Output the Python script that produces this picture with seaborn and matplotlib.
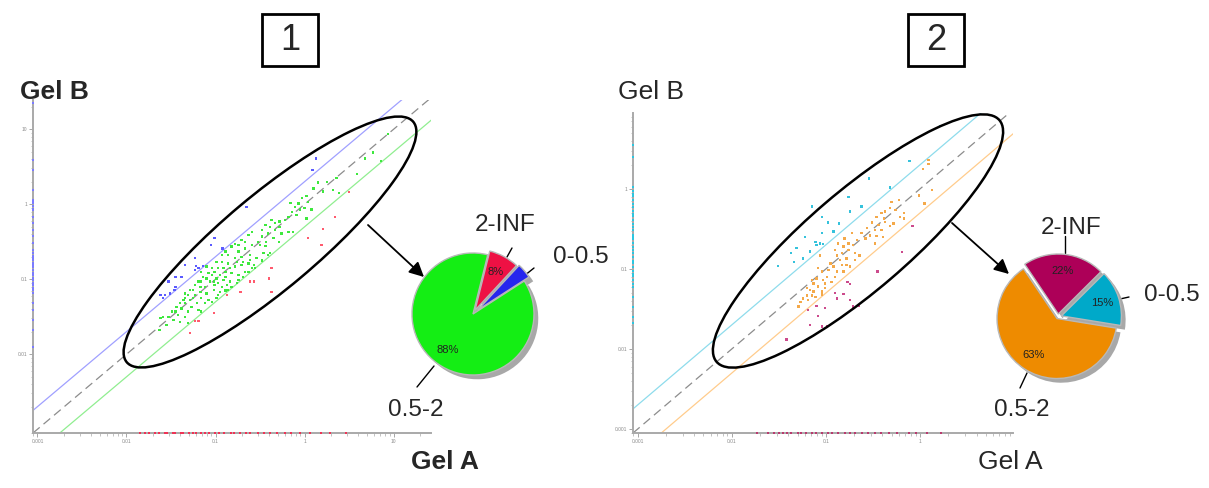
import numpy as np
import pandas as pd
import matplotlib
matplotlib.use("Agg")
import matplotlib.pyplot as plt
import seaborn as sns
from matplotlib.patches import Ellipse, Rectangle
from matplotlib.ticker import LogLocator, NullFormatter


# DATA  (log10 spot volumes, Gel A on x, Gel B on y)

# panel 1 - ratio 0.5-2
p1_same_a = [-0.78, -0.71, -0.63, -0.59, -0.67, -0.74, -0.82, -0.86, -0.78, -0.71, -0.61, -0.54, -0.46, -0.39,
             -0.93, -0.86, -0.78, -0.71, -0.63, -0.56, -0.48, -0.41, -0.97, -0.89, -0.82, -0.74, -0.67, -0.59,
             -1.04, -0.99, -0.91, -0.84, -0.76, -1.06, -1.01, -0.93, -0.86, -1.12, -1.17, -1.10, -1.02, -0.97,
             -0.89, -1.23, -1.16, -1.08, -1.29, -1.21, -1.34, -1.27, -1.19, -1.38, -1.31, -1.45, -1.42, -1.34,
             -1.53, -1.47, -1.40, -1.55, -1.34, -1.25, -1.16, -1.04, -0.93, -1.16, -1.31, -1.63,
             0.94, 0.77, 0.68, 0.86, 0.59, 0.36, 0.25, 0.15, 0.32, 0.39, 0.21, 0.10, 0.02, -0.03, -0.07,
             0.04, 0.00, 0.08, -0.16, -0.11, -0.05, -0.14, -0.09, -0.18, 0.02, -0.22, -0.28, -0.33, -0.37,
             -0.39, -0.44, -0.48, -0.41, -0.33, -0.28, -0.26, -0.48, -0.18, -0.13, -0.52, -0.43, -0.35,
             -0.29, -0.44, -0.50,
             -1.02, -0.97, -1.10, -1.17, -1.25, -1.31, -1.36, -1.40, -1.44, -1.49, -1.59, -1.62, -1.12,
             -1.04, -0.99, -0.95, -0.87, -0.82, -0.74, -0.69, -0.63, -0.57, -0.61, -0.69, -0.76, -0.84,
             -0.91, -1.01, -1.08, -1.14, -1.19, -1.23, -1.29, -1.34, -1.16, -1.10, -0.99, -0.89, -0.82,
             -0.74, -0.67, -0.59, -0.89, -0.95]
p1_same_b = [-0.53, -0.48, -0.41, -0.54, -0.59, -0.63, -0.57, -0.68, -0.72, -0.70, -0.68, -0.72, -0.65, -0.65,
             -0.77, -0.79, -0.83, -0.81, -0.79, -0.85, -0.75, -0.68, -0.85, -0.90, -0.92, -0.94, -0.90, -0.85,
             -0.94, -0.99, -1.01, -1.03, -1.05, -1.03, -1.08, -1.10, -1.14, -1.10, -1.17, -1.19, -1.14, -1.21,
             -1.15, -1.21, -1.25, -1.28, -1.28, -1.32, -1.32, -1.37, -1.41, -1.39, -1.43, -1.43, -1.48, -1.50,
             -1.50, -1.54, -1.57, -1.61, -1.25, -1.14, -1.03, -0.85, -0.68, -1.43, -1.58, -1.68,
             0.94, 0.69, 0.61, 0.58, 0.40, 0.35, 0.30, 0.29, 0.19, 0.15, 0.17, 0.21, 0.11, 0.08, 0.01,
             0.03, -0.05, -0.07, 0.02, -0.04, -0.07, -0.10, -0.14, -0.17, -0.19, -0.21, -0.23, -0.25, -0.21,
             -0.30, -0.28, -0.34, -0.39, -0.34, -0.30, -0.39, -0.43, -0.37, -0.37, -0.50, -0.50, -0.45,
             -0.50, -0.56, -0.54,
             -1.03, -1.05, -0.99, -1.10, -1.25, -1.21, -1.28, -1.32, -1.37, -1.43, -1.50, -1.52, -1.32,
             -1.30, -1.25, -1.17, -1.08, -1.10, -1.01, -0.97, -0.90, -0.81, -0.74, -0.77, -0.77, -0.85,
             -0.85, -0.90, -0.92, -0.97, -1.03, -1.08, -1.14, -1.19, -0.90, -0.83, -0.77, -0.63, -0.56,
             -0.54, -0.50, -0.37, -0.97, -0.94]
# panel 1 - ratio 0-0.5 (B up)
p1_up_a = [-1.01, -1.05, -0.92, -1.23, -1.34, -1.22, -1.19, -1.14, -1.23, -1.45, -1.38, -1.53, -1.45,
           -1.46, -1.62, -1.57, -1.51, -1.59, 0.13, 0.09, -0.65]
p1_up_b = [-0.45, -0.54, -0.59, -0.72, -0.81, -0.82, -0.85, -0.82, -0.88, -0.97, -0.97, -1.03, -1.10,
           -1.14, -1.21, -1.21, -1.19, -1.25, 0.61, 0.46, -0.04]
# panel 1 - ratio 2-INF (B down)
p1_down_a = [-0.37, -0.40, -0.61, -0.57, -0.72, -0.37, -1.02, -1.23, -1.19, -1.29, -0.87, 0.50, 0.34,
             0.21, 0.04, 0.19]
p1_down_b = [-0.85, -0.99, -1.03, -1.03, -1.17, -1.17, -1.45, -1.56, -1.56, -1.72, -1.21, 0.16, -0.17,
             -0.33, -0.45, -0.54]
# spots seen on one gel only
p1_only_b = [1.35, 0.59, 0.46, 0.19, 0.06, 0.03, 0.01, -0.02, -0.03, -0.06, -0.08, -0.17, -0.25, -0.34,
             -0.43, -0.52, -0.61, -0.65, -0.69, -0.72, -0.74, -0.79, -0.81, -0.84, -0.88, -0.92, -0.94,
             -0.99, -1.01, -1.05, -1.08, -1.12, -1.15, -1.19, -1.32, -1.41, -1.54, -1.68, -1.90]
p1_only_a = [-1.85, -1.79, -1.75, -1.68, -1.63, -1.57, -1.54, -1.48, -1.45, -1.39, -1.36, -1.30, -1.25,
             -1.22, -1.16, -1.12, -1.07, -1.01, -0.96, -0.90, -0.83, -0.79, -0.72, -0.66, -0.61, -0.52,
             -0.45, -0.39, -0.31, -0.22, -0.15, -0.05, 0.06, 0.18, 0.29, 0.46]

# panel 2
p2_same_a = [-0.72, -0.67, -0.76, -0.71, -0.81, -0.76, -0.88, -0.78, -0.85, -0.95, -0.83, -0.69, -1.06,
             -0.99, -1.10, -1.15, -1.13, -1.01, -0.94, -1.20, -1.17, -1.13, -1.15, -1.11, -1.04, -1.01,
             -1.29, -1.19, -0.74, -0.64,
             0.09, 0.09, 0.03, 0.13, -0.01, 0.05, -0.22, -0.30, -0.32, -0.26, -0.37, -0.41, -0.17, -0.21,
             -0.17, -0.38, -0.46, -0.51, -0.37, -0.28, -0.32, -0.44, -0.56, -0.48, -0.41, -0.62, -0.53,
             -0.46, -0.39, -0.58, -0.48,
             -0.90, -0.87, -0.80, -0.83, -0.92, -0.88, -1.04, -1.08, -0.97, -1.20, -1.24, -1.08, -1.04,
             -1.27, -0.81, -0.69, -0.78, -0.90, -1.03]
p2_same_b = [-0.55, -0.64, -0.68, -0.70, -0.72, -0.76, -0.83, -0.87, -0.89, -0.93, -0.95, -0.89, -0.83,
             -1.10, -1.12, -1.14, -1.18, -1.18, -1.16, -1.24, -1.26, -1.28, -1.33, -1.35, -1.28, -1.24,
             -1.47, -1.39, -0.97, -0.83,
             0.36, 0.31, 0.25, -0.01, -0.08, -0.18, -0.14, -0.16, -0.24, -0.26, -0.28, -0.30, -0.30, -0.35,
             -0.37, -0.37, -0.35, -0.42, -0.41, -0.43, -0.46, -0.45, -0.49, -0.51, -0.51, -0.55, -0.58,
             -0.59, -0.60, -0.62, -0.68,
             -0.76, -0.68, -0.62, -0.80, -0.97, -1.03, -1.03, -0.99, -1.01, -1.33, -1.37, -1.22, -1.32,
             -1.41, -1.03, -0.80, -0.95, -1.10, -1.14]
p2_up_a = [-1.15, -0.74, -1.04, -0.98, -0.86, -1.04, -1.22, -0.92, -1.11, -1.06, -1.03, -1.10, -1.31,
           -1.17, -1.37, -1.24, -1.34, -1.51, -0.76, 0.22, -0.11, -0.54, -0.32, -0.62]
p2_up_b = [-0.22, -0.28, -0.35, -0.42, -0.43, -0.55, -0.60, -0.53, -0.66, -0.68, -0.69, -0.70, -0.74,
           -0.78, -0.80, -0.87, -0.91, -0.96, -0.10, 0.79, 0.35, 0.13, 0.02, -0.22]
p2_down_a = [-0.45, -0.77, -0.74, -0.90, -0.81, -0.88, -0.74, -0.65, -0.71, -1.19, -1.10, -1.01, -1.08,
             -1.17, -1.04, -0.99, -1.42, -0.08, -0.19]
p2_down_b = [-1.03, -1.16, -1.19, -1.30, -1.31, -1.37, -1.39, -1.46, -1.47, -1.51, -1.46, -1.49, -1.59,
             -1.70, -1.72, -1.72, -1.88, -0.46, -0.79]
p2_only_b = [0.55, 0.40, 0.03, -0.02, -0.06, -0.09, -0.14, -0.19, -0.22, -0.27, -0.31, -0.34, -0.39,
             -0.44, -0.47, -0.51, -0.57, -0.60, -0.63, -0.68, -0.73, -0.76, -0.80, -0.85, -0.90, -0.93,
             -0.97, -1.02, -1.06, -1.09, -1.14, -1.19, -1.22, -1.35, -1.47, -1.60, -1.68]
p2_only_a = [-1.73, -1.62, -1.55, -1.50, -1.46, -1.41, -1.37, -1.30, -1.26, -1.21, -1.15, -1.10, -1.04,
             -0.98, -0.93, -0.87, -0.80, -0.74, -0.69, -0.62, -0.55, -0.48, -0.41, -0.33, -0.24, -0.12,
             -0.04, 0.08, 0.22]

# pies (order: 2-INF, 0-0.5, 0.5-2)
pie_labels = ["2-INF", "0-0.5", "0.5-2"]
pie1_values = [8, 4, 88]
pie2_values = [22, 15, 63]


# STYLE
sns.set_theme(style="white")
plt.rcParams["font.family"] = ["Liberation Sans", "DejaVu Sans"]

W, H = 1209, 488
fig = plt.figure(figsize=(W / 100, H / 100), dpi=100)


def px_axes(left, top, right, bottom):
    return fig.add_axes([left / W, 1 - bottom / H, (right - left) / W, (bottom - top) / H])


def scatter_panel(box, xlim, ylim, groups, rug_b, rug_a, line_cols, xlabels, ylabels):
    ax = px_axes(*box)
    x0, x1 = 10 ** xlim[0], 10 ** xlim[1]
    y0, y1 = 10 ** ylim[0], 10 ** ylim[1]

    xs = np.array([x0, x1 * 3])
    ax.plot(xs, 2 * xs, color=line_cols[0], lw=0.9)
    ax.plot(xs, xs, color="#8c8c8c", lw=0.9, dashes=(7, 4))
    ax.plot(xs, 0.5 * xs, color=line_cols[1], lw=0.9)

    frames = []
    for name, (a, b, col) in groups.items():
        frames.append(pd.DataFrame({"gel_a": 10 ** np.array(a), "gel_b": 10 ** np.array(b), "group": name}))
    df = pd.concat(frames)
    pal = {k: v[2] for k, v in groups.items()}
    sns.scatterplot(data=df, x="gel_a", y="gel_b", hue="group", palette=pal, marker="s",
                    s=3, linewidth=0, legend=False, ax=ax, zorder=3)

    # spots found in one gel only sit on the axes
    sns.scatterplot(x=np.full(len(rug_b[0]), x0), y=10 ** np.array(rug_b[0]), color=rug_b[1],
                    marker="s", s=2.5, linewidth=0, ax=ax, clip_on=False, zorder=4)
    sns.scatterplot(x=10 ** np.array(rug_a[0]), y=np.full(len(rug_a[0]), y0), color=rug_a[1],
                    marker="s", s=2.5, linewidth=0, ax=ax, clip_on=False, zorder=4)

    ax.set_xscale("log")
    ax.set_yscale("log")
    ax.set_xlim(x0, x1)
    ax.set_ylim(y0, y1)
    ax.set_xticks([float(t) for t in xlabels])
    ax.set_xticklabels(xlabels)
    ax.set_yticks([float(t) for t in ylabels])
    ax.set_yticklabels(ylabels)
    for axis in (ax.xaxis, ax.yaxis):
        axis.set_minor_locator(LogLocator(base=10, subs=np.arange(2, 10)))
        axis.set_minor_formatter(NullFormatter())
    ax.tick_params(which="major", length=3, width=0.6, color="#999999", labelsize=3.5,
                   labelcolor="#8a8a8a", pad=1, bottom=True, left=True)
    ax.tick_params(which="minor", length=1.8, width=0.5, color="#aaaaaa", bottom=True, left=True)
    ax.set_xlabel("")
    ax.set_ylabel("")
    sns.despine(ax=ax)
    for side in ("left", "bottom"):
        ax.spines[side].set_color("#a9a9a9")
        ax.spines[side].set_linewidth(1.4)
    return ax


scatter_panel((33, 100, 431, 433), (-3.05, 1.42), (-3.05, 1.39),
              {"same": (p1_same_a, p1_same_b, "#3ee83e"),
               "up": (p1_up_a, p1_up_b, "#5a5aff"),
               "down": (p1_down_a, p1_down_b, "#ff5a6e")},
              (p1_only_b, "#7b7bff"), (p1_only_a, "#ee3355"),
              ("#a0a0ff", "#90ee90"),
              ["0.001", "0.01", "0.1", "1", "10"], ["0.01", "0.1", "1", "10"])

scatter_panel((633, 113, 1013, 433), (-3.05, 0.99), (-3.05, 0.95),
              {"same": (p2_same_a, p2_same_b, "#f4a94a"),
               "up": (p2_up_a, p2_up_b, "#35c2dc"),
               "down": (p2_down_a, p2_down_b, "#cc4a8c")},
              (p2_only_b, "#2cc6e0"), (p2_only_a, "#b83a6e"),
              ("#8edcec", "#ffcc8c"),
              ["0.001", "0.01", "0.1", "1"], ["0.001", "0.01", "0.1", "1"])


# ANNOTATION LAYER (pixel coordinates)
ov = fig.add_axes([0, 0, 1, 1])
ov.patch.set_alpha(0)
ov.axis("off")

for (cx, cy), ww, hh, ang in [((270, 242), 374, 94, -40), ((858, 241), 372, 100, -40.5)]:
    ov.add_patch(Ellipse((cx, cy), ww, hh, angle=ang, fill=False, ec="black", lw=1.8, zorder=5))

for x, txt in [(262, "1"), (908, "2")]:
    ov.add_patch(Rectangle((x, 14), 56, 52, fc="white", ec="black", lw=2))
    ov.text(x + 28, 41, txt, fontsize=26, ha="center", va="center")

ov.text(20, 92, "Gel B", fontsize=19, fontweight="bold", ha="left", va="center")
ov.text(618, 92, "Gel B", fontsize=19, ha="left", va="center")
ov.text(445, 462, "Gel A", fontsize=19, fontweight="bold", ha="center", va="center")
ov.text(1010, 462, "Gel A", fontsize=19, ha="center", va="center")

for start, end in [((368, 225), (424, 277)), ((952, 223), (1009, 274))]:
    ov.annotate("", xy=end, xytext=start,
                arrowprops=dict(arrowstyle="-|>", color="black", lw=1.3, mutation_scale=22,
                                shrinkA=0, shrinkB=0))

label_pos = [[(505, 225), (581, 257), (416, 410)], [(1071, 228), (1172, 295), (1022, 410)]]
leaders = [[((512, 248), (507, 257)), ((534, 268), (524, 276)), ((434, 366), (417, 387))],
           [((1065, 236), (1065, 253)), ((1129, 297), (1120, 299)), ((1027, 373), (1020, 388))]]
for pos, lines in zip(label_pos, leaders):
    for (tx, ty), txt, ((ax1, ay1), (ax2, ay2)) in zip(pos, pie_labels, lines):
        ov.text(tx, ty, txt, fontsize=17.5, ha="center", va="center")
        ov.plot([ax1, ax2], [ay1, ay2], color="black", lw=1)

ov.set_xlim(0, W)
ov.set_ylim(H, 0)


# PIES
def pie_panel(cx, cy, r, values, colors, explode, start):
    S = 170
    ax = px_axes(cx - S / 2, cy - S / 2, cx + S / 2, cy + S / 2)
    ax.pie(values, colors=["#a8a8a8"] * 3, explode=explode, startangle=start, counterclock=False,
           center=(0.07, -0.07), wedgeprops=dict(linewidth=0))
    ax.pie(values, colors=colors, explode=explode, startangle=start, counterclock=False,
           autopct=lambda p: f"{p:.0f}%" if p >= 5 else "", pctdistance=0.72,
           textprops=dict(fontsize=8, color="#222222"),
           wedgeprops=dict(edgecolor="#b8b8b8", linewidth=1))
    lim = S / (2 * r)
    ax.set_xlim(-lim, lim)
    ax.set_ylim(-lim, lim)
    ax.set_aspect("equal")
    ax.axis("off")


pie_panel(473, 314, 61, pie1_values, ["#ee1144", "#2626ee", "#14ee14"], [0.07, 0.1, 0], 76)
pie_panel(1058, 317, 60, pie2_values, ["#ad0058", "#00a9c9", "#ee8b00"], [0.05, 0.06, 0.03], 124)

fig.savefig("out.png", dpi=100, facecolor="white")
